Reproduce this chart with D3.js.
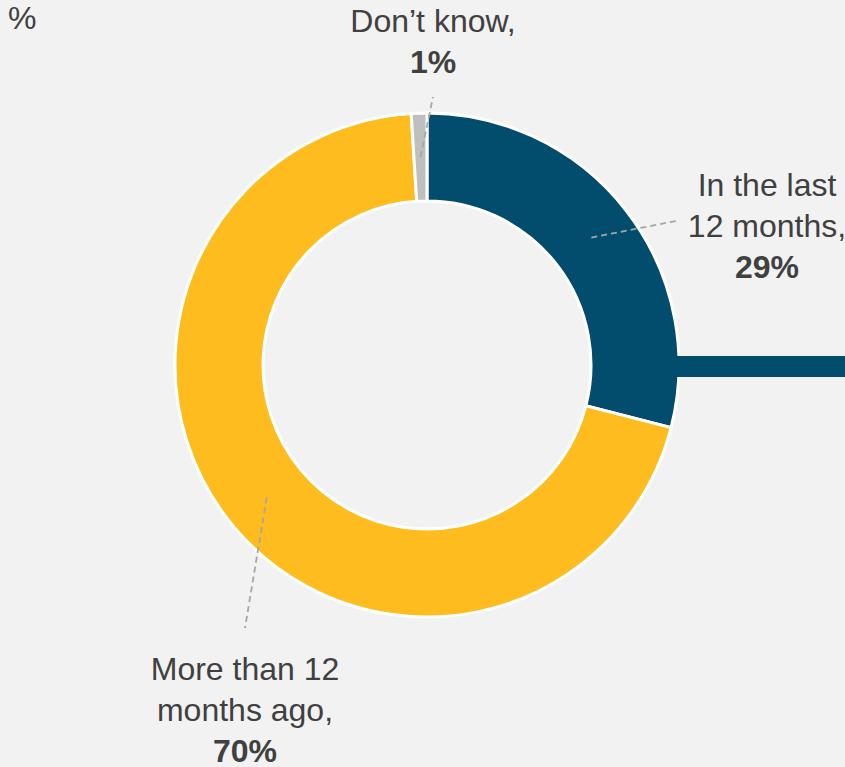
<!DOCTYPE html>
<html>
<head>
<meta charset="utf-8">
<script src="https://cdn.jsdelivr.net/npm/d3@7"></script>
<style>
  html, body { margin: 0; padding: 0; background: #f2f2f2; }
  svg { display: block; }
</style>
</head>
<body>
<svg id="chart" width="845" height="767"></svg>
<script>
// Share of respondents by timing
const categories = ["In the last 12 months", "More than 12 months ago", "Don\u2019t know"];
const values = [29, 70, 1];
const colors = ["#024c6d", "#ffbc1f", "#bfbfbf"];
// Label text, one array of lines per category (value appended in bold)
const labelLines = [
  ["In the last", "12 months,"],
  ["More than 12", "months ago,"],
  ["Don\u2019t know,"]
];
const unitLabel = "%";

const W = 845, H = 767;
const cx = 427, cy = 365;
const outerR = 252, innerR = 164;

// Where each label block sits and where its leader line ends
const labelLayout = [
  { x: 767, y: 196, lineEnd: [676, 221] },
  { x: 245, y: 680, lineEnd: [245, 628] },
  { x: 433, y: 32,  lineEnd: [433, 97] }
];

const svg = d3.select("#chart");
const textColor = "#404040";
const font = "'Liberation Sans', Arial, sans-serif";
const fontSize = 32, lineH = 41;

svg.append("text")
  .attr("x", 8).attr("y", 29)
  .attr("font-family", font).attr("font-size", fontSize)
  .attr("fill", textColor)
  .text(unitLabel);

const pie = d3.pie().sort(null).value(d => d)(values);
const arc = d3.arc().innerRadius(innerR).outerRadius(outerR);

const g = svg.append("g").attr("transform", `translate(${cx},${cy})`);

// Connector bar leaving the first slice at its right edge
svg.append("rect")
  .attr("x", cx + outerR - 2)
  .attr("y", cy - 9)
  .attr("width", W - (cx + outerR - 2))
  .attr("height", 21)
  .attr("fill", colors[0]);

g.selectAll("path.slice")
  .data(pie)
  .join("path")
  .attr("class", "slice")
  .attr("d", arc)
  .attr("fill", (d, i) => colors[i])
  .attr("stroke", "#ffffff")
  .attr("stroke-width", 3)
  .attr("stroke-linejoin", "miter");

// Leader lines from slice centroids to labels
pie.forEach((d, i) => {
  const c = arc.centroid(d);
  const L = labelLayout[i];
  svg.append("line")
    .attr("x1", cx + c[0]).attr("y1", cy + c[1])
    .attr("x2", L.lineEnd[0]).attr("y2", L.lineEnd[1])
    .attr("stroke", "#a6a6a6")
    .attr("stroke-width", 1.8)
    .attr("stroke-dasharray", "6,4");
});

// Labels
labelLayout.forEach((L, i) => {
  const t = svg.append("text")
    .attr("text-anchor", "middle")
    .attr("font-family", font)
    .attr("font-size", fontSize)
    .attr("fill", textColor);
  labelLines[i].forEach((line, k) => {
    t.append("tspan").attr("x", L.x).attr("y", L.y + k * lineH).text(line);
  });
  t.append("tspan")
    .attr("x", L.x)
    .attr("y", L.y + labelLines[i].length * lineH)
    .attr("font-weight", "bold")
    .text(values[i] + "%");
});
</script>
</body>
</html>
